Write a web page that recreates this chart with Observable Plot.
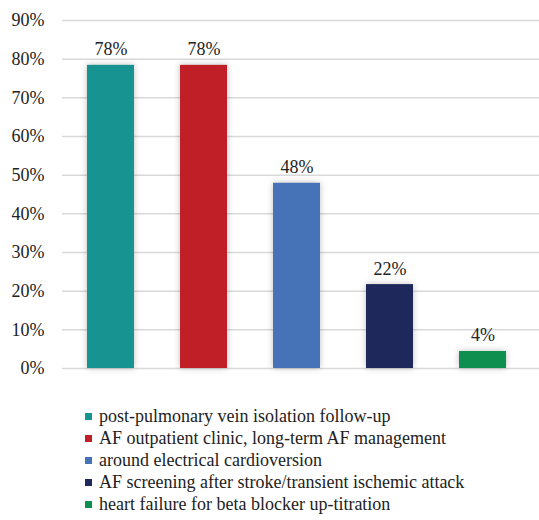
<!DOCTYPE html>
<html>
<head>
<meta charset="utf-8">
<script src="https://cdn.jsdelivr.net/npm/d3@7"></script>
<script src="https://cdn.jsdelivr.net/npm/@observablehq/plot@0.6"></script>
</head>
<body style="margin:0;background:#fff;font-family:'Times New Roman','Liberation Serif',Tinos,serif">
<div id="chart"></div>
<div id="legend" style="padding:15px 0 0 85px;font-size:18px;color:#222;font-family:'Times New Roman','Liberation Serif',Tinos,serif"></div>
<script>
const categories = [
  "post-pulmonary vein isolation follow-up",
  "AF outpatient clinic, long-term AF management",
  "around electrical cardioversion",
  "AF screening after stroke/transient ischemic attack",
  "heart failure for beta blocker up-titration"
];
const values = [78.4, 78.4, 47.9, 21.7, 4.4];
const labels = ["78%", "78%", "48%", "22%", "4%"];
const colors = ["#179391", "#C01F28", "#4672B8", "#1F285B", "#0E8F50"];
const yTicks = [0, 10, 20, 30, 40, 50, 60, 70, 80, 90];

const serif = "'Times New Roman', 'Liberation Serif', Tinos, serif";
const data = categories.map((c, i) => ({category: c, value: values[i], label: labels[i]}));

const chart = Plot.plot({
  width: 539,
  height: 390,
  marginTop: 20,
  marginBottom: 22,
  marginLeft: 62,
  marginRight: 0,
  style: {fontFamily: serif, fontSize: "18px", color: "#222", background: "#fff"},
  x: {domain: categories, range: [63, 531], paddingInner: 0.49, paddingOuter: 0.245, axis: null},
  y: {domain: [0, 90], ticks: yTicks, tickFormat: d => d + "%", tickSize: 0, tickPadding: 18, label: null},
  color: {domain: categories, range: colors},
  marks: [
    Plot.ruleY(yTicks, {stroke: "#d9d9d9", strokeWidth: 1.5}),
    Plot.barY(data, {x: "category", y: "value", fill: "category"}),
    Plot.text(data, {x: "category", y: "value", text: "label", dy: -10, lineAnchor: "bottom", fill: "#222"})
  ]
});
document.getElementById("chart").appendChild(chart);
d3.select(chart).selectAll("g[aria-label='bar'] rect").style("filter", "drop-shadow(0px 0px 3px rgba(0,0,0,0.25))");
d3.select(chart).selectAll("text").attr("font-family", serif).style("font-family", serif);

const legend = d3.select("#legend");
categories.forEach((c, i) => {
  const item = legend.append("div").style("display", "flex").style("align-items", "center").style("height", "22px");
  item.append("div").style("width", "7px").style("height", "7px").style("margin-right", "7px").style("flex", "none").style("background", colors[i]);
  item.append("span").style("font-family", serif).text(c);
});
</script>
</body>
</html>
